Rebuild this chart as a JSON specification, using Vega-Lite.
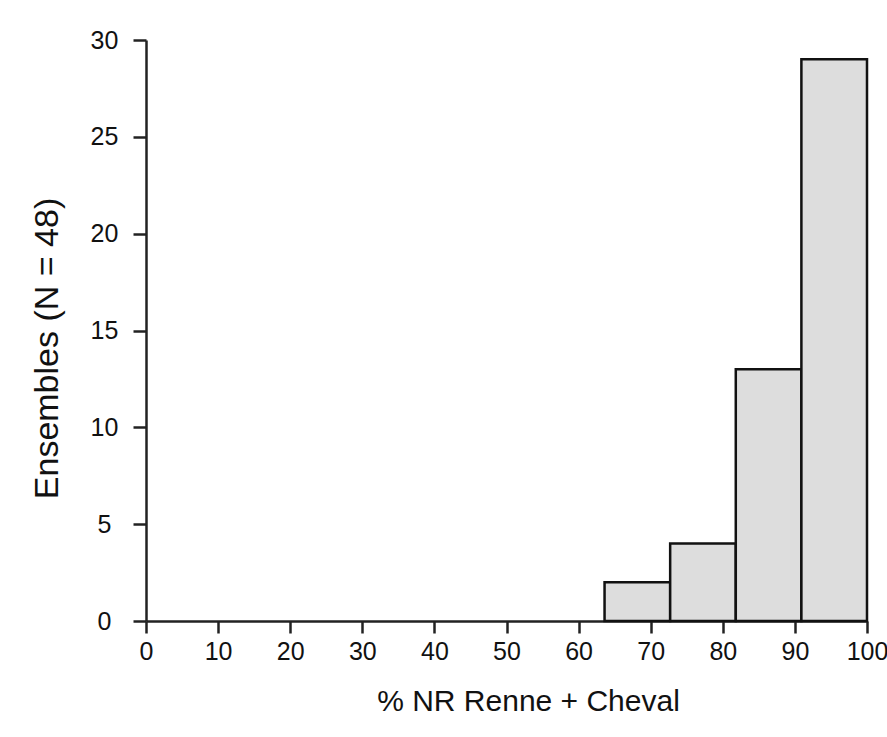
{
  "$schema": "https://vega.github.io/schema/vega-lite/v6.json",
  "width": 721,
  "height": 581,
  "autosize": {"type": "none"},
  "padding": {"left": 146, "top": 40, "right": 20, "bottom": 116},
  "background": "white",
  "config": {"view": {"stroke": null}, "font": "Liberation Sans"},
  "data": {
    "values": [
      {"start": 63.6, "end": 72.7, "count": 2},
      {"start": 72.7, "end": 81.8, "count": 4},
      {"start": 81.8, "end": 90.9, "count": 13},
      {"start": 90.9, "end": 100, "count": 29}
    ]
  },
  "mark": {"type": "rect", "fill": "#dddddd", "stroke": "#111111", "strokeWidth": 2.5},
  "encoding": {
    "x": {
      "field": "start",
      "type": "quantitative",
      "scale": {"domain": [0, 100], "nice": false},
      "axis": {
        "values": [0, 10, 20, 30, 40, 50, 60, 70, 80, 90, 100],
        "title": "% NR Renne + Cheval",
        "titleFontSize": 30,
        "titleFontWeight": "normal",
        "titleColor": "#111111",
        "titleBaseline": "alphabetic",
        "titleX": 382,
        "titleY": 89,
        "labelFontSize": 25,
        "labelColor": "#111111",
        "labelBaseline": "alphabetic",
        "labelPadding": 26,
        "labelFlush": false,
        "labelOverlap": false,
        "tickSize": 12,
        "tickWidth": 2.5,
        "tickColor": "#222222",
        "domainColor": "#222222",
        "domainWidth": 2.5,
        "grid": false
      }
    },
    "x2": {"field": "end"},
    "y": {
      "field": "count",
      "type": "quantitative",
      "scale": {"domain": [0, 30], "nice": false},
      "axis": {
        "values": [0, 5, 10, 15, 20, 25, 30],
        "title": "Ensembles (N = 48)",
        "titleFontSize": 34,
        "titleFontWeight": "normal",
        "titleColor": "#111111",
        "titleBaseline": "alphabetic",
        "titleAlign": "center",
        "titleAngle": -90,
        "titleX": -89,
        "titleY": 308,
        "labelFontSize": 25,
        "labelColor": "#111111",
        "labelAlign": "center",
        "labelBaseline": "middle",
        "labelPadding": 29,
        "labelFlush": false,
        "labelOverlap": false,
        "tickSize": 13,
        "tickWidth": 2.5,
        "tickColor": "#222222",
        "domainColor": "#222222",
        "domainWidth": 2.5,
        "grid": false
      }
    },
    "y2": {"datum": 0}
  }
}
